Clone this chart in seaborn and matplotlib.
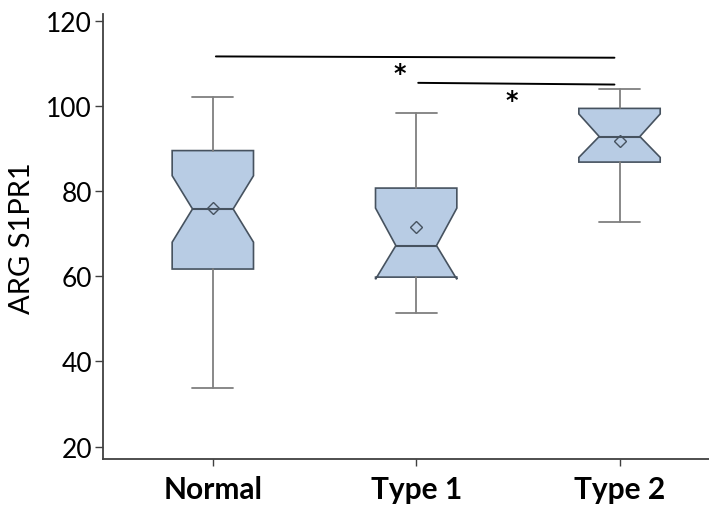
import matplotlib
matplotlib.use("Agg")
from matplotlib import pyplot as plt
import seaborn as sns

# summary values
groups = ["Normal", "Type 1", "Type 2"]
whisker_low = [33.7, 51.3, 72.8]
q1 = [61.7, 59.8, 86.8]
medians = [75.8, 67.2, 92.8]
q3 = [89.5, 80.7, 99.4]
whisker_high = [102.0, 98.3, 104.0]
means = [76.0, 71.6, 91.8]
notch_low = [68.0, 59.3, 87.9]
notch_high = [83.6, 76.0, 98.1]

# significance bars: (x start, x end, y start, y end) and star positions
sig_lines = [(0.015, 1.975, 111.6, 111.3), (1.01, 1.975, 105.4, 105.0)]
stars = [(0.92, 108.7), (1.47, 102.4)]

sns.set_theme(style="ticks")
plt.rcParams['font.family'] = ['Lato', 'DejaVu Sans']
plt.rcParams['text.color'] = 'black'
plt.rcParams['axes.labelcolor'] = 'black'
plt.rcParams['xtick.labelcolor'] = 'black'
plt.rcParams['ytick.labelcolor'] = 'black'

fill = "#b8cce4"
edge = "#46525f"
whisk = "#7f7f7f"

stats = []
for i, g in enumerate(groups):
    stats.append(dict(label=g, whislo=whisker_low[i], q1=q1[i], med=medians[i],
                      q3=q3[i], whishi=whisker_high[i], mean=means[i],
                      cilo=notch_low[i], cihi=notch_high[i], fliers=[]))

fig = plt.figure(figsize=(7.09, 5.10), dpi=100)
ax = fig.add_axes([0.1453, 0.0971, 0.8547, 0.873])

ax.bxp(stats, positions=range(len(groups)), widths=0.4, capwidths=0.2,
       shownotches=True, showmeans=True, patch_artist=True, showfliers=False,
       boxprops=dict(facecolor=fill, edgecolor=edge, linewidth=1.2),
       medianprops=dict(color=edge, linewidth=1.5),
       whiskerprops=dict(color=whisk, linewidth=1.3),
       capprops=dict(color=whisk, linewidth=1.3),
       meanprops=dict(marker="D", markerfacecolor="none", markeredgecolor=edge,
                      markersize=6.5, markeredgewidth=1.0))

for x0, x1, y0, y1 in sig_lines:
    ax.plot([x0, x1], [y0, y1], color="black", linewidth=1.4)
for sx, sy in stars:
    # glyph sits high in the text box, so nudge it down
    ax.text(sx, sy - 1.0, "*", ha="center", va="center", fontsize=17,
            fontweight="bold", color="black", family="DejaVu Sans")

ax.set_xlim(-0.54, 2.44)
ax.set_ylim(17, 121.5)
ax.set_yticks([20, 40, 60, 80, 100, 120])
ax.set_xticks(range(len(groups)))
ax.set_xticklabels(groups, fontsize=21.5, fontweight="bold")
ax.tick_params(axis="y", labelsize=19, length=6, width=1, color="#404040", pad=2)
ax.tick_params(axis="x", length=5, width=1, color="#404040", pad=6)
ax.set_ylabel("ARG S1PR1", fontsize=21, labelpad=8)
sns.despine(ax=ax)
for s in ["left", "bottom"]:
    ax.spines[s].set_color("#404040")
    ax.spines[s].set_linewidth(1.3)

fig.savefig("out.png", dpi=100)
